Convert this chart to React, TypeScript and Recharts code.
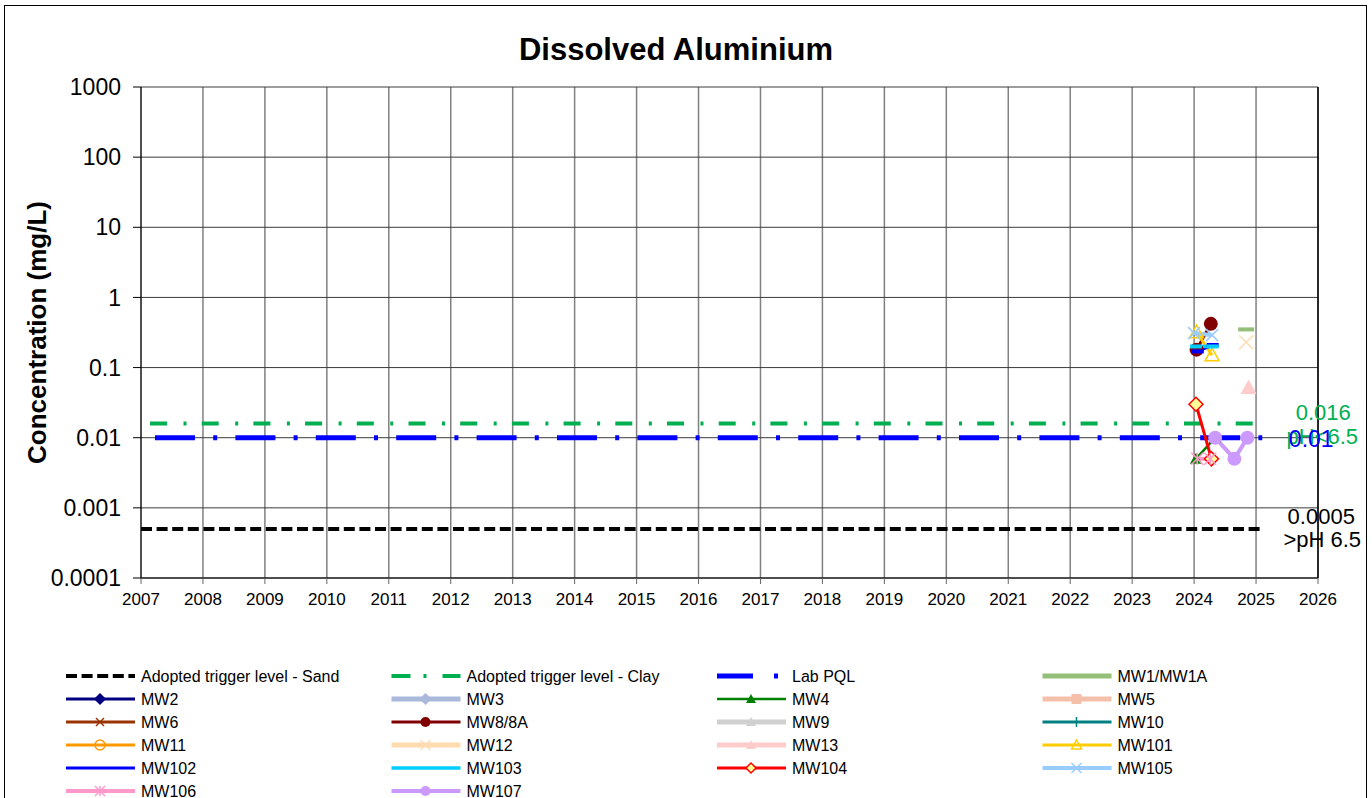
import React from 'react';
import { ComposedChart, Line, XAxis, YAxis, CartesianGrid, Legend, ReferenceLine, ReferenceDot } from 'recharts';

const FONT = '"Liberation Sans", Arial, sans-serif';

const YEARS = [2007, 2008, 2009, 2010, 2011, 2012, 2013, 2014, 2015, 2016, 2017, 2018, 2019, 2020, 2021, 2022, 2023, 2024, 2025, 2026];
const Y_TICKS = [0.0001, 0.001, 0.01, 0.1, 1, 10, 100, 1000];

// guide levels
const GUIDE_X = [2007, 2025.1];
const SAND_Y = [0.0005, 0.0005];
const CLAY_Y = [0.016, 0.016];
const PQL_Y = [0.01, 0.01];

// monitoring wells (decimal year, mg/L)
const MW1_X = [2024.84];
const MW1_Y = [0.35];
const MW2_X: number[] = [];
const MW2_Y: number[] = [];
const MW3_X: number[] = [];
const MW3_Y: number[] = [];
const MW4_X = [2024.03, 2024.34];
const MW4_Y = [0.005, 0.01];
const MW5_X: number[] = [];
const MW5_Y: number[] = [];
const MW6_X: number[] = [];
const MW6_Y: number[] = [];
const MW8_X = [2024.04, 2024.27];
const MW8_Y = [0.18, 0.42];
const MW9_X: number[] = [];
const MW9_Y: number[] = [];
const MW10_X: number[] = [];
const MW10_Y: number[] = [];
const MW11_X: number[] = [];
const MW11_Y: number[] = [];
const MW12_X = [2024.84];
const MW12_Y = [0.23];
const MW13_X = [2024.88];
const MW13_Y = [0.052];
const MW101_X = [2024.04, 2024.29];
const MW101_Y = [0.32, 0.15];
const MW102_X = [2024.06, 2024.3];
const MW102_Y = [0.17, 0.21];
const MW103_X = [2024.03, 2024.3];
const MW103_Y = [0.2, 0.2];
const MW104_X = [2024.03, 2024.28];
const MW104_Y = [0.03, 0.005];
const MW105_X = [2024.0, 2024.29];
const MW105_Y = [0.31, 0.29];
const MW106_X = [2024.05, 2024.26];
const MW106_Y = [0.005, 0.005];
const MW107_X = [2024.34, 2024.65, 2024.86];
const MW107_Y = [0.01, 0.005, 0.01];

type Shape = 'none' | 'circle' | 'ocircle' | 'diamond' | 'triangle' | 'otriangle' | 'square' | 'x' | 'plus' | 'star' | 'dash';

interface Series {
  name: string;
  xs: number[];
  ys: number[];
  color: string;
  width: number;
  shape: Shape;
  size: number;
  fill?: string;
  dash?: string;
  dashOffset?: number;
  legendDash?: string;
}

const SERIES: Series[] = [
  { name: 'Adopted trigger level - Sand', xs: GUIDE_X, ys: SAND_Y, color: '#000000', width: 4, shape: 'none', size: 0, dash: '11 4.6' },
  { name: 'Adopted trigger level - Clay', xs: GUIDE_X, ys: CLAY_Y, color: '#00b050', width: 4, shape: 'none', size: 0, dash: '17 16.5 3 15.2', dashOffset: 42.7, legendDash: '19 13 3 16' },
  { name: 'Lab PQL', xs: GUIDE_X, ys: PQL_Y, color: '#0000ff', width: 5, shape: 'none', size: 0, dash: '40 18.2 4 18.2', dashOffset: 66.4, legendDash: '36 21 4 40' },
  { name: 'MW1/MW1A', xs: MW1_X, ys: MW1_Y, color: '#93bf79', width: 5, shape: 'dash', size: 8 },
  { name: 'MW2', xs: MW2_X, ys: MW2_Y, color: '#000080', width: 3, shape: 'diamond', size: 5 },
  { name: 'MW3', xs: MW3_X, ys: MW3_Y, color: '#aab8dc', width: 5, shape: 'diamond', size: 5 },
  { name: 'MW4', xs: MW4_X, ys: MW4_Y, color: '#008000', width: 2.5, shape: 'triangle', size: 6 },
  { name: 'MW5', xs: MW5_X, ys: MW5_Y, color: '#f4c0aa', width: 5, shape: 'square', size: 6 },
  { name: 'MW6', xs: MW6_X, ys: MW6_Y, color: '#993300', width: 3, shape: 'x', size: 4 },
  { name: 'MW8/8A', xs: MW8_X, ys: MW8_Y, color: '#800000', width: 3, shape: 'circle', size: 7 },
  { name: 'MW9', xs: MW9_X, ys: MW9_Y, color: '#d0d0d0', width: 5, shape: 'triangle', size: 6 },
  { name: 'MW10', xs: MW10_X, ys: MW10_Y, color: '#008080', width: 3, shape: 'plus', size: 5 },
  { name: 'MW11', xs: MW11_X, ys: MW11_Y, color: '#ff9900', width: 3, shape: 'ocircle', size: 5 },
  { name: 'MW12', xs: MW12_X, ys: MW12_Y, color: '#ffdcb0', width: 5, shape: 'x', size: 7 },
  { name: 'MW13', xs: MW13_X, ys: MW13_Y, color: '#ffcccc', width: 5, shape: 'triangle', size: 8 },
  { name: 'MW101', xs: MW101_X, ys: MW101_Y, color: '#ffcc00', width: 3, shape: 'otriangle', size: 7 },
  { name: 'MW102', xs: MW102_X, ys: MW102_Y, color: '#0000ff', width: 3, shape: 'dash', size: 6 },
  { name: 'MW103', xs: MW103_X, ys: MW103_Y, color: '#00ccff', width: 3.5, shape: 'dash', size: 6 },
  { name: 'MW104', xs: MW104_X, ys: MW104_Y, color: '#ff0000', width: 3, shape: 'diamond', size: 7, fill: '#ffff99' },
  { name: 'MW105', xs: MW105_X, ys: MW105_Y, color: '#99ccff', width: 4, shape: 'x', size: 6 },
  { name: 'MW106', xs: MW106_X, ys: MW106_Y, color: '#ff99cc', width: 4, shape: 'star', size: 6 },
  { name: 'MW107', xs: MW107_X, ys: MW107_Y, color: '#cc99ff', width: 4, shape: 'circle', size: 7 },
];

function Mark({ cx, cy, s, k }: { cx: number; cy: number; s: Series; k?: string }) {
  const r = s.size;
  const c = s.color;
  switch (s.shape) {
    case 'circle':
      return <circle key={k} cx={cx} cy={cy} r={r} fill={c} />;
    case 'ocircle':
      return <circle key={k} cx={cx} cy={cy} r={r} fill="none" stroke={c} strokeWidth={1.5} />;
    case 'diamond':
      return (
        <polygon key={k} points={`${cx},${cy - r} ${cx + r},${cy} ${cx},${cy + r} ${cx - r},${cy}`}
          fill={s.fill ?? c} stroke={c} strokeWidth={1.5} />
      );
    case 'triangle':
      return <polygon key={k} points={`${cx},${cy - r} ${cx + r},${cy + r * 0.8} ${cx - r},${cy + r * 0.8}`} fill={c} />;
    case 'otriangle':
      return (
        <polygon key={k} points={`${cx},${cy - r} ${cx + r},${cy + r * 0.8} ${cx - r},${cy + r * 0.8}`}
          fill="none" stroke={c} strokeWidth={1.5} />
      );
    case 'square':
      return <rect key={k} x={cx - r} y={cy - r} width={2 * r} height={2 * r} fill={c} />;
    case 'x':
      return (
        <g key={k} stroke={c} strokeWidth={1.5}>
          <line x1={cx - r} y1={cy - r} x2={cx + r} y2={cy + r} />
          <line x1={cx - r} y1={cy + r} x2={cx + r} y2={cy - r} />
        </g>
      );
    case 'plus':
      return (
        <g key={k} stroke={c} strokeWidth={1.5}>
          <line x1={cx} y1={cy - r} x2={cx} y2={cy + r} />
        </g>
      );
    case 'star':
      return (
        <g key={k} stroke={c} strokeWidth={1.5}>
          <line x1={cx - r} y1={cy - r} x2={cx + r} y2={cy + r} />
          <line x1={cx - r} y1={cy + r} x2={cx + r} y2={cy - r} />
          <line x1={cx} y1={cy - r} x2={cx} y2={cy + r} />
        </g>
      );
    case 'dash':
      return <rect key={k} x={cx - r} y={cy - 2} width={2 * r} height={4} fill={c} />;
    default:
      return <g key={k} />;
  }
}

function LegendGrid() {
  return (
    <svg width={1372} height={145} style={{ display: 'block' }}>
      {SERIES.map((s, i) => {
        const col = i % 4;
        const row = Math.floor(i / 4);
        const x0 = 66 + col * 325.5;
        const y = 11 + row * 23;
        const small = { ...s, size: Math.min(s.size, 5) };
        return (
          <g key={s.name}>
            <line x1={x0} x2={x0 + 69} y1={y} y2={y} stroke={s.color} strokeWidth={s.width}
              strokeDasharray={s.legendDash ?? s.dash} />
            {s.shape !== 'none' && s.shape !== 'dash' && <Mark cx={x0 + 34} cy={y} s={small} />}
            <text x={x0 + 75} y={y} dominantBaseline="central" fontSize={16} fontFamily={FONT} fill="#000">
              {s.name}
            </text>
          </g>
        );
      })}
    </svg>
  );
}

const endText = (lines: { t: string; dx: number; dy: number }[], color: string, size: number) =>
  (p: any) => (
    <g>
      {lines.map((l) => (
        <text key={l.t} x={p.cx + l.dx} y={p.cy + l.dy} textAnchor="middle" dominantBaseline="central"
          fontSize={size} fontFamily={FONT} fill={color}>
          {l.t}
        </text>
      ))}
    </g>
  );

export default function App() {
  return (
    <div style={{ position: 'absolute', left: 0, top: 0, width: 1372, height: 798, overflow: 'hidden', background: '#fff' }}>
      <div style={{ position: 'absolute', left: 4, top: 5, width: 1361, height: 820, border: '1px solid #000' }} />
      <div style={{ position: 'absolute', left: 376, top: 32, width: 600, textAlign: 'center', fontFamily: FONT, fontWeight: 'bold', fontSize: 31 }}>
        Dissolved Aluminium
      </div>
      <div style={{ position: 'absolute', left: 0, top: 0 }}>
        <ComposedChart width={1372} height={815} margin={{ top: 87, right: 54, left: 0, bottom: 5 }}>
          <CartesianGrid horizontal={false} stroke="#808080" strokeWidth={1.5} />
          <CartesianGrid vertical={false} stroke="#3a3a3a" strokeWidth={1} />
          <XAxis type="number" dataKey="x" domain={[2007, 2026]} ticks={YEARS} interval={0} allowDataOverflow
            height={87} tickSize={6} tickMargin={9} stroke="#000"
            tick={{ fontSize: 17, fontFamily: FONT, fill: '#000' }} tickLine={{ stroke: '#666' }} />
          <YAxis type="number" dataKey="y" scale="log" domain={[0.0001, 1000]} ticks={Y_TICKS} interval={0}
            allowDataOverflow width={141} tickSize={8} tickMargin={12} stroke="#000"
            tickFormatter={(v: number) => String(v)}
            tick={{ fontSize: 23, fontFamily: FONT, fill: '#000' }}
            label={(p: any) => {
              const vb = p.viewBox ?? { x: 0, y: 87, width: 141, height: 491 };
              const x = vb.x + 37;
              const y = vb.y + vb.height / 2;
              return (
                <text x={x} y={y} transform={`rotate(-90 ${x} ${y})`} textAnchor="middle" dominantBaseline="central"
                  fontSize={26} fontWeight="bold" fontFamily={FONT} fill="#000">
                  Concentration (mg/L)
                </text>
              );
            }} />
          <ReferenceLine x={2026} stroke="#000" strokeWidth={1.5} />
          {SERIES.filter((s) => s.xs.length > 0).map((s) => (
            <Line key={s.name} type="linear" dataKey="y" name={s.name}
              data={s.xs.map((x, i) => ({ x, y: s.ys[i] }))}
              stroke={s.color} strokeWidth={s.width} strokeDasharray={s.dash} strokeDashoffset={s.dashOffset}
              dot={s.shape === 'none' ? false : (p: any) => <Mark k={`${s.name}-${p.index}`} cx={p.cx} cy={p.cy} s={s} />}
              activeDot={false} isAnimationActive={false} />
          ))}
          <ReferenceDot x={GUIDE_X[1]} y={CLAY_Y[1]} shape={endText([{ t: '0.016', dx: 61, dy: -11 }, { t: 'pH<6.5', dx: 60, dy: 13 }], '#00b050', 22)} />
          <ReferenceDot x={GUIDE_X[1]} y={PQL_Y[1]} shape={endText([{ t: '0.01', dx: 49, dy: 1 }], '#0000ff', 23)} />
          <ReferenceDot x={GUIDE_X[1]} y={SAND_Y[1]} shape={endText([{ t: '0.0005', dx: 59, dy: -12 }, { t: '>pH 6.5', dx: 60, dy: 11 }], '#000', 22)} />
          <Legend verticalAlign="bottom" align="left" content={() => <LegendGrid />}
            wrapperStyle={{ left: 0, width: 1372, height: 145 }} />
        </ComposedChart>
      </div>
    </div>
  );
}
